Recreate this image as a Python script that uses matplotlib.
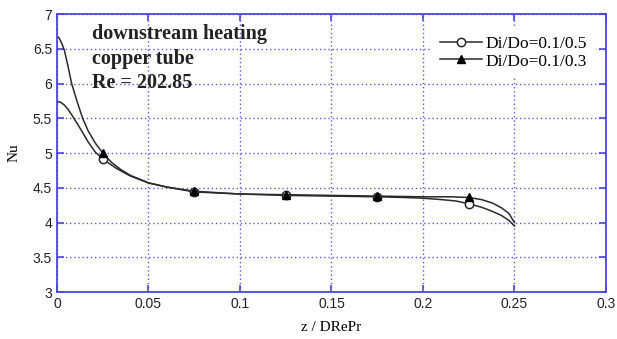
import numpy as np
import matplotlib
matplotlib.use('Agg')
from matplotlib import pyplot as plt, ticker

# Di/Do = 0.1/0.5 (open circles)
z1 = [0, 0.002, 0.004, 0.006, 0.009, 0.013, 0.017, 0.021, 0.025, 0.029, 0.033, 0.04,
      0.05, 0.06, 0.075, 0.1, 0.125, 0.15, 0.175, 0.19, 0.2, 0.21, 0.218, 0.225,
      0.232, 0.238, 0.243, 0.247, 0.25]
nu1 = [5.74, 5.73, 5.69, 5.63, 5.51, 5.34, 5.16, 5.01, 4.92, 4.84, 4.77, 4.67,
       4.57, 4.51, 4.44, 4.41, 4.39, 4.38, 4.37, 4.36, 4.35, 4.33, 4.31, 4.27,
       4.22, 4.16, 4.10, 4.03, 3.95]

# Di/Do = 0.1/0.3 (filled triangles)
z2 = [0, 0.001, 0.002, 0.003, 0.004, 0.006, 0.008, 0.011, 0.014, 0.017, 0.021,
      0.025, 0.03, 0.035, 0.04, 0.05, 0.06, 0.075, 0.1, 0.125, 0.15, 0.175, 0.2,
      0.215, 0.225, 0.232, 0.238, 0.243, 0.247, 0.25]
nu2 = [6.68, 6.66, 6.61, 6.55, 6.48, 6.25, 6.00, 5.74, 5.50, 5.32, 5.14,
       5.00, 4.86, 4.76, 4.68, 4.57, 4.51, 4.45, 4.41, 4.40, 4.39, 4.38, 4.37,
       4.37, 4.36, 4.33, 4.28, 4.21, 4.13, 4.00]

marker_z = [0.025, 0.075, 0.125, 0.175, 0.225]
labels = ['Di/Do=0.1/0.5', 'Di/Do=0.1/0.3']
note = 'downstream heating\ncopper tube\nRe = 202.85'

blue = '#4a4ad6'
grid_blue = '#5a5ae0'
line_col = '#2a2a2a'

fig = plt.figure(figsize=(6.17, 3.39), dpi=100)
ax = fig.add_axes([0.0924, 0.1386, 0.8896, 0.8201])

idx1 = [i for i, v in enumerate(z1) if v in marker_z]
idx2 = [i for i, v in enumerate(z2) if v in marker_z]

ax.plot(z1, nu1, color=line_col, lw=1.1, marker='o', markevery=idx1, ms=6,
        mfc='white', mec=line_col, mew=1.1, label=labels[0])
ax.plot(z2, nu2, color=line_col, lw=1.1, marker='^', markevery=idx2, ms=6,
        mfc='black', mec='black', label=labels[1])

ax.set_xlim(0, 0.3)
ax.set_ylim(3, 7)
ax.xaxis.set_major_locator(ticker.MultipleLocator(0.05))
ax.yaxis.set_major_locator(ticker.MultipleLocator(0.5))
ax.xaxis.set_major_formatter(ticker.FuncFormatter(lambda v, p: ('%g' % round(v, 3))))
ax.yaxis.set_major_formatter(ticker.FuncFormatter(lambda v, p: ('%g' % round(v, 2))))

ax.grid(True, color=grid_blue, ls=(0, (1.0, 2.0)), lw=1.0)
for s in ax.spines.values():
    s.set_color(blue)
    s.set_linewidth(1.3)
ax.tick_params(direction='in', colors=blue, length=5, width=1.2, top=True, right=True,
               labelcolor='#222222', labelsize=10)
for lab in ax.get_xticklabels() + ax.get_yticklabels():
    lab.set_family('Liberation Sans')

ax.set_xlabel('z / DRePr', family='Liberation Serif', fontsize=11, labelpad=7)
ax.set_ylabel('Nu', family='Liberation Serif', fontsize=11, labelpad=9)

ax.text(0.019, 6.85, note, family='Liberation Serif', fontweight='bold', fontsize=14.5,
        va='top', ha='left', linespacing=1.3, color='#222222')

leg = ax.legend(loc='upper right', bbox_to_anchor=(0.997, 0.985), frameon=True,
                fancybox=False, framealpha=1, edgecolor='white', handlelength=2.4,
                handletextpad=0.2, labelspacing=0.1, borderpad=0.5,
                prop={'family': 'Liberation Serif', 'size': 12.5})
leg.get_frame().set_linewidth(0)

fig.savefig('out.png', dpi=100)
